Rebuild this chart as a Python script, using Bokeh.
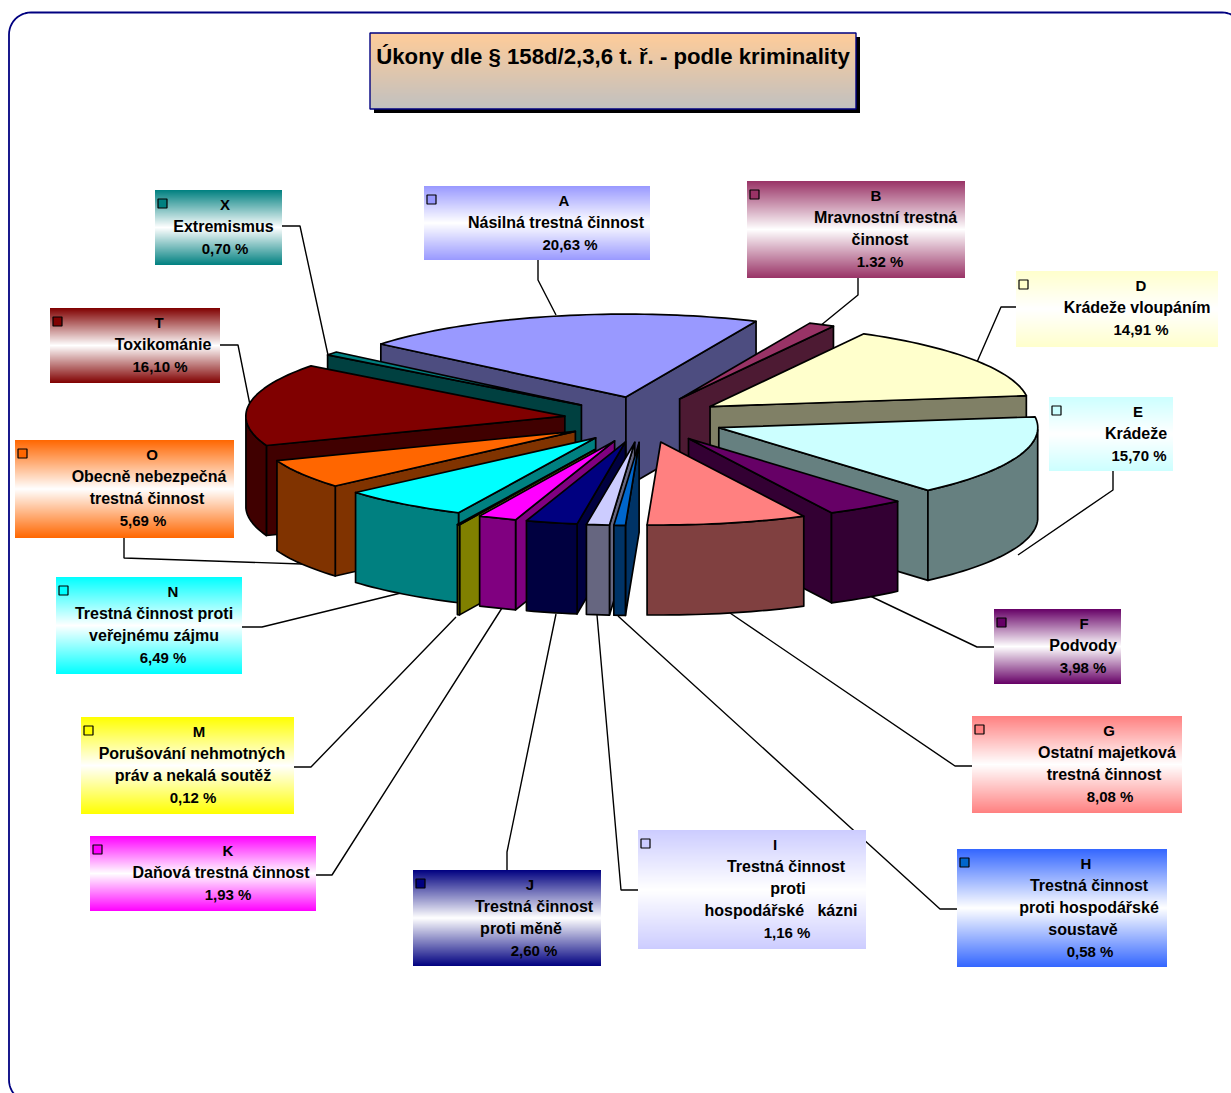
import math
from bokeh.plotting import figure
from bokeh.models import Range1d
from bokeh.core.properties import value
from bokeh.embed import file_html
from bokeh.resources import INLINE

# ---- data ----
codes = ["A", "B", "D", "E", "F", "G", "H", "I", "J", "K", "M", "N", "O", "T", "X"]
shares = [20.63, 1.32, 14.91, 15.70, 3.98, 8.08, 0.58, 1.16, 2.60, 1.93, 0.12, 6.49, 5.69, 16.10, 0.70]
share_labels = ["20,63 %", "1.32 %", "14,91 %", "15,70 %", "3,98 %", "8,08 %", "0,58 %", "1,16 %",
                "2,60 %", "1,93 %", "0,12 %", "6,49 %", "5,69 %", "16,10 %", "0,70 %"]
names = [["Násilná trestná činnost"],
         ["Mravnostní trestná", "činnost"],
         ["Krádeže vloupáním"],
         ["Krádeže"],
         ["Podvody"],
         ["Ostatní majetková", "trestná činnost"],
         ["Trestná činnost", "proti hospodářské", "soustavě"],
         ["Trestná činnost", "proti", "hospodářské\u00a0\u00a0\u00a0kázni"],
         ["Trestná činnost", "proti měně"],
         ["Daňová trestná činnost"],
         ["Porušování nehmotných", "práv a nekalá soutěž"],
         ["Trestná činnost proti", "veřejnému zájmu"],
         ["Obecně nebezpečná", "trestná činnost"],
         ["Toxikománie"],
         ["Extremismus"]]
title = "Úkony dle § 158d/2,3,6 t. ř. - podle kriminality"

# ---- styling and layout ----
top_colors = ["#9999FF", "#993366", "#FFFFCC", "#CCFFFF", "#660066", "#FF8080", "#0066CC", "#CCCCFF",
              "#000080", "#FF00FF", "#FFFF00", "#00FFFF", "#FF6600", "#800000", "#008080"]
wall_colors = ["#4D4D80", "#4D1A33", "#808066", "#668080", "#330033", "#804040", "#003366", "#666680",
               "#000040", "#800080", "#808000", "#008080", "#803300", "#400000", "#004040"]
box_colors = ["#9999FF", "#993366", "#FFFFCC", "#CCFFFF", "#660066", "#FF8080", "#3366FF", "#CCCCFF",
              "#000080", "#FF00FF", "#FFFF00", "#00FFFF", "#FF6600", "#800000", "#008080"]
boxes = [(424, 186, 650, 260), (747, 181, 965, 278), (1016, 271, 1218, 347), (1049, 397, 1173, 471),
         (994, 609, 1121, 684), (972, 716, 1182, 813), (957, 849, 1167, 967), (638, 830, 866, 949),
         (413, 870, 601, 966), (90, 836, 316, 911), (81, 717, 294, 814), (56, 577, 242, 674),
         (15, 440, 234, 538), (50, 308, 220, 383), (155, 190, 282, 265)]
line_x = [[564, 556, 570], [876, 885.5, 880, 880], [1141, 1137, 1141], [1138, 1136, 1139], [1084, 1083, 1083],
          [1109, 1107, 1104, 1110], [1086, 1089, 1089, 1083, 1090], [775, 786, 788, 781, 787],
          [530, 534, 521, 534], [228, 221, 228], [199, 192, 193, 193], [173, 154, 154, 163],
          [152, 149, 147, 143], [159, 163, 160], [225, 223.5, 225]]
leaders = [[(538, 260), (538, 280), (556, 315)], [(858, 278), (858, 295), (820, 326)],
           [(1016, 307), (1001, 307), (977, 362)], [(1113, 471), (1113, 490), (1018, 555)],
           [(994, 647), (977, 647), (868, 595)], [(972, 766), (955, 766), (730, 613)],
           [(957, 909), (940, 909), (618, 616)], [(638, 890), (621, 890), (597, 615)],
           [(507, 870), (507, 852), (556, 614)], [(316, 875), (332, 875), (502, 608)],
           [(294, 767), (311, 767), (456, 617)], [(242, 627), (262, 627), (405, 592)],
           [(124, 538), (124, 558), (302, 564)], [(220, 345), (238, 345), (250, 405)],
           [(282, 226), (300, 226), (328, 355)]]

CX, CY = 644.0, 419.5     # pie centre on the page
RX, RY = 319.0, 83.0      # radius of the tilted ellipse
EX, EY = 80.0, 23.0       # explosion of every slice
EXTRA = {"M": 1.45}       # slices pulled further out
DEPTH = 90.0
START = -50.2             # first slice start, degrees clockwise from the back
LW = 1.7

W, H = 1231, 1093
p = figure(width=W, height=H, output_backend="svg", toolbar_location=None,
           x_range=Range1d(0.5, W + 0.5), y_range=Range1d(H + 0.5, 0.5),
           min_border=0, outline_line_color=None, background_fill_color="white",
           border_fill_color="white")
p.axis.visible = False
p.grid.visible = False


def hex2rgb(c):
    return tuple(int(c[i:i + 2], 16) for i in (1, 3, 5))


def gradient(x0, y0, x1, y1, stops):
    """Overlapping horizontal strips between colour stops (position, rgb)."""
    n = int(y1 - y0)
    left, right, top, bottom, col = [], [], [], [], []
    for i in range(n):
        t = (i + 0.5) / n
        for (a, ca), (b, cb) in zip(stops, stops[1:]):
            if a <= t <= b:
                f = (t - a) / (b - a)
                rgb = tuple(round(u + (v - u) * f) for u, v in zip(ca, cb))
                break
        left.append(x0)
        right.append(x1)
        top.append(y0 + i)
        bottom.append(y1)          # painted over by the next strip: no seams
        col.append("#%02X%02X%02X" % rgb)
    p.quad(left=left, right=right, top=top, bottom=bottom, fill_color=col, fill_alpha=1.0, line_color=None)


# rounded outer frame
r = 22
fx0, fy0, fx1, fy1 = 9.0, 12.5, 1244.0, 1102.0
fx, fy = [], []
for cx_, cy_, a0 in ((fx0 + r, fy0 + r, 180), (fx1 - r, fy0 + r, 270), (fx1 - r, fy1 - r, 0), (fx0 + r, fy1 - r, 90)):
    for k in range(13):
        a = math.radians(a0 + k * 7.5)
        fx.append(cx_ + r * math.cos(a))
        fy.append(cy_ + r * math.sin(a))
fx.append(fx[0])
fy.append(fy[0])
p.line(fx, fy, line_color="#000080", line_width=1.8)

# title box
p.quad(left=[374], right=[860], top=[37], bottom=[113], fill_color="black", fill_alpha=1.0, line_color=None)
gradient(370, 33, 856, 109, [(0, hex2rgb("#FFCC99")), (1, hex2rgb("#C0C0C0"))])
p.quad(left=[370], right=[856], top=[33], bottom=[109], fill_color=None, line_color="#000080", line_width=1.4)
p.text(x=[613], y=[56], text=[title], text_font=value("Liberation Sans"), text_font_style="bold",
       text_font_size="22.2px", text_align="center", text_baseline="middle", text_color="black")

# leader lines (beneath the pie)
for pts in leaders:
    p.line([q[0] for q in pts], [q[1] for q in pts], line_color="black", line_width=1.4)

# ---- exploded 3D pie from the shares ----
total = sum(shares)
slices = []
acc = 0.0
for i, s in enumerate(shares):
    a0 = START + 360.0 * acc / total
    acc += s
    a1 = START + 360.0 * acc / total
    slices.append((i, a0, a1))


def rim(ax, ay, deg):
    t = math.radians(deg)
    return ax + RX * math.sin(t), ay - RY * math.cos(t)


def mid_cos(item):
    return -math.cos(math.radians((item[1] + item[2]) / 2))


for i, a0, a1 in sorted(slices, key=mid_cos):
    mid = math.radians((a0 + a1) / 2)
    f = EXTRA.get(codes[i], 1.0)
    ax = CX + f * EX * math.sin(mid)
    ay = CY - f * EY * math.cos(mid)
    n = max(2, int((a1 - a0) / 1.5) + 2)
    degs = [a0 + (a1 - a0) * k / (n - 1) for k in range(n)]
    outline = [rim(ax, ay, d) for d in degs]
    wall_polys = []
    # radial walls facing the viewer
    if math.cos(math.radians(a0 - 90)) < 0:
        e = outline[0]
        wall_polys.append([(ax, ay), e, (e[0], e[1] + DEPTH), (ax, ay + DEPTH)])
    if math.cos(math.radians(a1 + 90)) < 0:
        e = outline[-1]
        wall_polys.append([(ax, ay), e, (e[0], e[1] + DEPTH), (ax, ay + DEPTH)])
    # curved outer wall: the part of the rim on the viewer's side
    front = [d for d in degs if math.cos(math.radians(d)) <= 0]
    if len(front) >= 2:
        pts = [rim(ax, ay, d) for d in front]
        wall_polys.append(pts + [(q[0], q[1] + DEPTH) for q in reversed(pts)])
    for poly in wall_polys:
        p.patch([q[0] for q in poly], [q[1] for q in poly], fill_color=wall_colors[i], fill_alpha=1.0,
                line_color="black", line_width=LW, line_join="round")
    top = [(ax, ay)] + outline
    p.patch([q[0] for q in top], [q[1] for q in top], fill_color=top_colors[i], fill_alpha=1.0,
            line_color="black", line_width=LW, line_join="round")

# ---- label boxes ----
nx, ny, nt, vx, vy, vt = [], [], [], [], [], []
for i, code in enumerate(codes):
    x0, y0, x1, y1 = boxes[i]
    c = hex2rgb(box_colors[i])
    gradient(x0, y0, x1, y1, [(0, c), (0.5, (255, 255, 255)), (1, c)])
    p.quad(left=[x0 + 3], right=[x0 + 12], top=[y0 + 9], bottom=[y0 + 18], fill_color=top_colors[i],
           fill_alpha=1.0, line_color="black", line_width=1.2)
    rows = [code] + names[i] + [share_labels[i]]
    for k, row in enumerate(rows):
        is_name = 0 < k < len(rows) - 1
        (nx if is_name else vx).append(line_x[i][k])
        (ny if is_name else vy).append(y0 + 14 + 22 * k)
        (nt if is_name else vt).append(row)
p.text(x=nx, y=ny, text=nt, text_font=value("Liberation Sans"), text_font_style="bold",
       text_font_size="16px", text_align="center", text_baseline="middle", text_color="black")
p.text(x=vx, y=vy, text=vt, text_font=value("Liberation Sans"), text_font_style="bold",
       text_font_size="15px", text_align="center", text_baseline="middle", text_color="black")

open("out.html", "w").write(file_html(p, INLINE))
